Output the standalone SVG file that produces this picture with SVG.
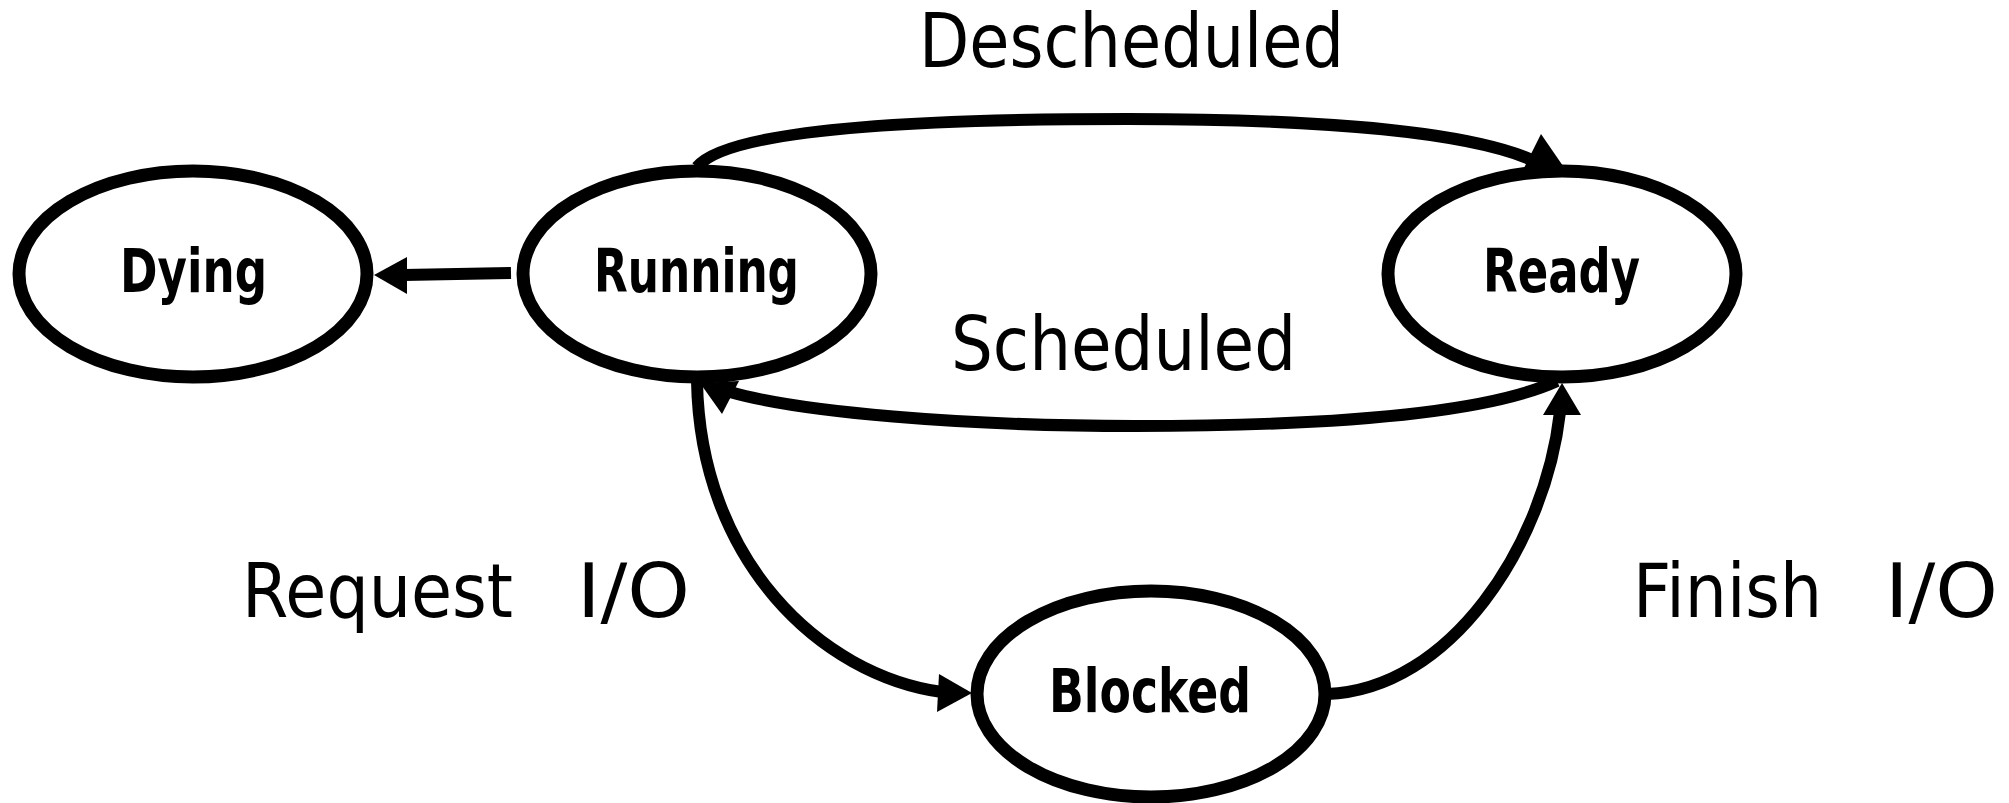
<svg xmlns="http://www.w3.org/2000/svg" width="2009" height="803" viewBox="0 0 2009 803">
<style>
.node ellipse{fill:#fff;stroke:#000;stroke-width:13}
.node text{font-family:"DejaVu Sans",sans-serif;font-weight:bold;font-size:61px;fill:#000}
.edge path{fill:none;stroke:#000;stroke-width:12}
.edge polygon{fill:#000;stroke:none}
.lbl{font-family:"DejaVu Sans",sans-serif;font-size:75px;fill:#000}
</style>
<rect width="2009" height="803" fill="#fff"/>
<g id="node-dying" class="node">
<ellipse cx="193" cy="274" rx="174" ry="103"/>
<text x="120" y="292" textLength="147" lengthAdjust="spacingAndGlyphs">Dying</text>
</g>
<g id="node-running" class="node">
<ellipse cx="697" cy="274" rx="174" ry="103"/>
<text x="594" y="292" textLength="205" lengthAdjust="spacingAndGlyphs">Running</text>
</g>
<g id="node-ready" class="node">
<ellipse cx="1562" cy="274" rx="174" ry="103"/>
<text x="1483" y="292" textLength="157" lengthAdjust="spacingAndGlyphs">Ready</text>
</g>
<g id="node-blocked" class="node">
<ellipse cx="1151" cy="694" rx="174" ry="103"/>
<text x="1049" y="712" textLength="202" lengthAdjust="spacingAndGlyphs">Blocked</text>
</g>
<g id="connectors">
<g class="edge" id="e-running-dying">
<path d="M511,273 L404,275"/>
<polygon points="374,275 407,257 407,294"/>
</g>
<g class="edge" id="e-running-ready">
<path d="M697,167 C730,126 950,119 1128,119 C1330,119 1470,133 1532,160"/>
<polygon points="1541,134 1524,168 1563,166"/>
</g>
<g class="edge" id="e-ready-running">
<path d="M1557,381 C1470,421 1260,426 1135,426 C960,426 800,412 730,392"/>
<polygon points="722,414 700,383 739,381"/>
</g>
<g class="edge" id="e-running-blocked">
<path d="M697,381 C700,560 820,675 942,692"/>
<polygon points="972,693 939,674 937,712"/>
</g>
<g class="edge" id="e-blocked-ready">
<path d="M1327,694 C1450,690 1545,545 1560,412"/>
<polygon points="1562,383 1543,415 1581,415"/>
</g>
</g>
<g id="labels">
<text class="lbl" x="919" y="67" textLength="425" lengthAdjust="spacingAndGlyphs">Descheduled</text>
<text class="lbl" x="951" y="370" textLength="345" lengthAdjust="spacingAndGlyphs">Scheduled</text>
<text class="lbl" y="617"><tspan x="242" textLength="271" lengthAdjust="spacingAndGlyphs">Request</tspan> <tspan x="577" textLength="113" lengthAdjust="spacingAndGlyphs">I/O</tspan></text>
<text class="lbl" y="617"><tspan x="1633" textLength="189" lengthAdjust="spacingAndGlyphs">Finish</tspan> <tspan x="1885" textLength="113" lengthAdjust="spacingAndGlyphs">I/O</tspan></text>
</g>
</svg>
